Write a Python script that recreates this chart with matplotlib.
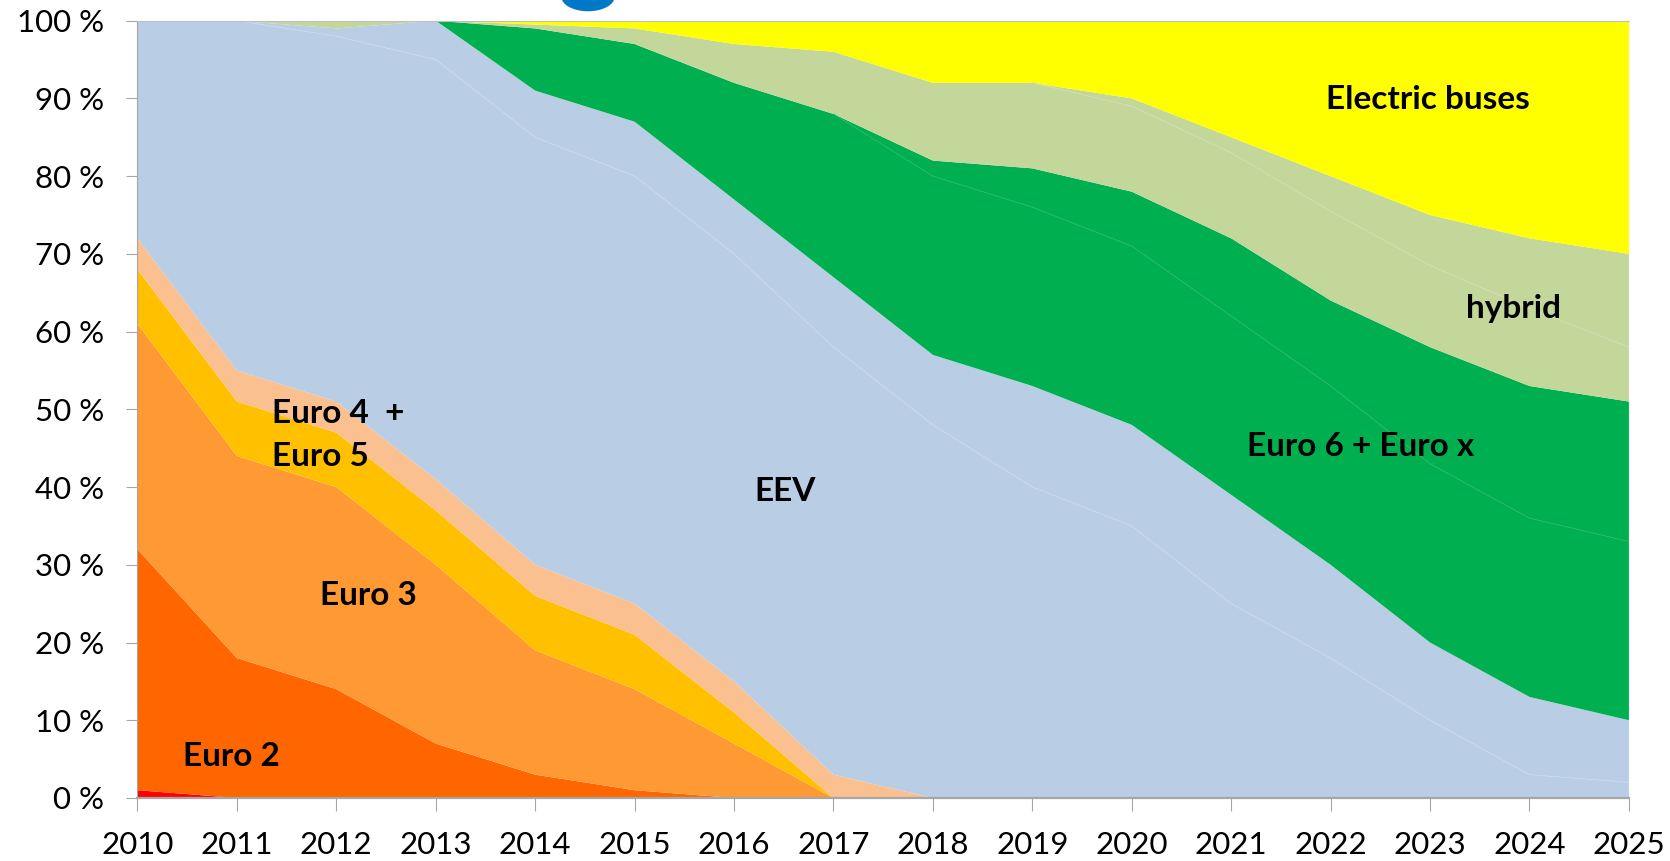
import matplotlib
matplotlib.use("Agg")
import matplotlib.pyplot as plt
import numpy as np
from matplotlib.patches import Ellipse

plt.rcParams['font.family'] = ['Lato', 'DejaVu Sans']

years = list(range(2010, 2026))

# share of the bus fleet per emission class, in %
euro1      = [1, 0, 0, 0, 0, 0, 0, 0, 0, 0, 0, 0, 0, 0, 0, 0]
euro2      = [31, 18, 14, 7, 3, 1, 0, 0, 0, 0, 0, 0, 0, 0, 0, 0]
euro3      = [29, 26, 26, 23, 16, 13, 7, 0, 0, 0, 0, 0, 0, 0, 0, 0]
euro4      = [7, 7, 7, 7, 7, 7, 4, 0, 0, 0, 0, 0, 0, 0, 0, 0]
euro5      = [4, 4, 4, 4, 4, 4, 4, 3, 0, 0, 0, 0, 0, 0, 0, 0]
eev_a      = [28, 45, 47, 54, 55, 55, 55, 55, 48, 40, 35, 25, 18, 10, 3, 2]
eev_b      = [0, 0, 1, 5, 6, 7, 7, 9, 9, 13, 13, 14, 12, 10, 10, 8]
euro6      = [0, 0, 0, 0, 8, 10, 15, 21, 23, 23, 23, 23, 23, 23, 23, 23]
eurox      = [0, 0, 0, 0, 0, 0, 0, 0, 2, 5, 7, 10, 11, 15, 17, 18]
hybrid_a   = [0, 0, 1, 0, 0.5, 2, 5, 8, 10, 11, 11, 11, 11.5, 10.5, 10, 7]
hybrid_b   = [0, 0, 0, 0, 0, 0, 0, 0, 0, 0, 1, 2, 4.5, 6.5, 9, 12]
electric   = [0, 0, 0, 0, 0.5, 1, 3, 4, 8, 8, 10, 15, 20, 25, 28, 30]

layers = [euro1, euro2, euro3, euro4, euro5, eev_a, eev_b, euro6, eurox,
          hybrid_a, hybrid_b, electric]
colors = ['#FF0000', '#FF6600', '#FF9933', '#FFC000', '#FAC090',
          '#B9CDE5', '#B9CDE5', '#00B050', '#00B050',
          '#C4D79B', '#C4D79B', '#FFFF00']

yticks = list(range(0, 101, 10))
ytick_labels = ['%d %%' % v for v in yticks]

fig = plt.figure(figsize=(16.7, 8.61), dpi=100)
ax = fig.add_axes([0.0823, 0.0732, 0.8931, 0.9028])

ax.stackplot(years, *layers, colors=colors, linewidth=0)

# faint separators between layers that share a colour,
# only where the upper one of the pair actually has a share
tops = np.cumsum(np.array(layers, dtype=float), axis=0)
for idx, col in [(5, '#CBD9EB'), (7, '#22B868'), (9, '#CFDDB0')]:
    upper = layers[idx + 1]
    for i in range(len(years) - 1):
        if upper[i] > 0 or upper[i + 1] > 0:
            ax.plot(years[i:i + 2], tops[idx][i:i + 2], color=col, lw=0.6)

ax.set_xlim(2010, 2025)
ax.set_ylim(0, 100)
ax.set_xticks(years)
ax.set_xticklabels([str(y) for y in years], fontsize=22.5)
ax.set_yticks(yticks)
ax.set_yticklabels(ytick_labels, fontsize=22.5)
ax.tick_params(axis='y', length=8, color='#A6A6A6', pad=16)
ax.tick_params(axis='x', length=9, color='#A6A6A6', pad=15)

ax.spines['right'].set_visible(False)
ax.spines['top'].set_color('#BFBFBF')
ax.spines['left'].set_color('#A6A6A6')
ax.spines['bottom'].set_color('#A6A6A6')
ax.spines['bottom'].set_linewidth(1.6)

lab = dict(fontsize=24, fontweight='bold', color='black')
ax.text(2022.98, 89.8, 'Electric buses', ha='center', va='center', **lab)
ax.text(2023.84, 63.0, 'hybrid', ha='center', va='center', **lab)
ax.text(2022.3, 45.2, 'Euro 6 + Euro x', ha='center', va='center', **lab)
ax.text(2016.51, 39.4, 'EEV', ha='center', va='center', **lab)
ax.text(2012.32, 26.1, 'Euro 3', ha='center', va='center', **lab)
ax.text(2011.35, 49.5, 'Euro 4  +', ha='left', va='center', **lab)
ax.text(2011.35, 43.9, 'Euro 5', ha='left', va='center', **lab)
ax.text(2010.46, 5.3, 'Euro 2', ha='left', va='center', **lab)

# bit of a blue logo cut off at the top edge
fig.add_artist(Ellipse((588 / 1670, 1.004), 52 / 1670, 28 / 861,
                       transform=fig.transFigure, color='#0078C8'))

fig.savefig('out.png', dpi=100)
